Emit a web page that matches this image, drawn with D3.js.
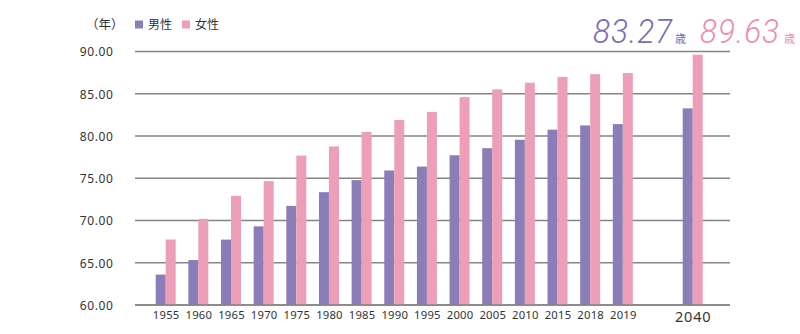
<!DOCTYPE html>
<html>
<head>
<meta charset="utf-8">
<script src="https://cdn.jsdelivr.net/npm/d3@7"></script>
<style>
  html, body { margin: 0; padding: 0; background: #fff; }
  svg { display: block; }
  .cjk { font-family: "Noto Sans CJK JP", "Noto Sans", sans-serif; }
  .num { font-family: "Noto Sans", "DejaVu Sans", sans-serif; }
</style>
</head>
<body>
<svg id="chart" width="800" height="334"></svg>
<script>
// Average life expectancy (years) by year; 2040 is a projection
const years  = ["1955","1960","1965","1970","1975","1980","1985","1990","1995","2000","2005","2010","2015","2018","2019","2040"];
const male   = [63.60, 65.32, 67.74, 69.31, 71.73, 73.35, 74.78, 75.92, 76.38, 77.72, 78.56, 79.55, 80.75, 81.25, 81.41, 83.27];
const female = [67.75, 70.19, 72.92, 74.66, 77.68, 78.76, 80.48, 81.90, 82.85, 84.60, 85.52, 86.30, 86.99, 87.32, 87.45, 89.63];
const yTicks = [60, 65, 70, 75, 80, 85, 90];
const seriesNames = ["男性", "女性"];
const projectionYear = "2040";

const colors = { "男性": "#8b7db8", "女性": "#ec9fb7" };
const calloutColors = { "男性": "#7a6caf", "女性": "#e98fae" };
const gridColor = "#858585";
const textColor = "#333";

const svg = d3.select("#chart");

// the projected year sits a little more than one empty slot away from 2019
const projectionGap = 2.14;
const slotIndex = years.map((y, i) => y === projectionYear ? (i - 1) + projectionGap : i);

const x = d3.scaleLinear()
  .domain([0, d3.max(slotIndex)])
  .range([165.7, 692.7]);

const inner = d3.scaleBand()
  .domain(seriesNames)
  .range([-10, 10])
  .padding(0);

const y = d3.scaleLinear().domain([60, 90]).range([305, 51.5]);

const plotLeft = 135, plotRight = 730;

// horizontal gridlines
svg.append("g")
  .selectAll("line")
  .data(yTicks)
  .join("line")
  .attr("x1", plotLeft).attr("x2", plotRight)
  .attr("y1", d => y(d)).attr("y2", d => y(d))
  .attr("stroke", gridColor)
  .attr("stroke-width", 1.5);

// y axis labels
const yAxis = d3.axisLeft(y).tickValues(yTicks).tickFormat(d3.format(".2f")).tickSize(0).tickPadding(0);
const yG = svg.append("g").attr("transform", "translate(113.5,0)").call(yAxis);
yG.select(".domain").remove();
yG.selectAll("text")
  .attr("class", "num")
  .attr("fill", textColor)
  .style("font-size", "12px")
  .style("letter-spacing", "0.6px")
  .attr("dy", "0.36em");

// bars
const rows = years.map((yr, i) => ({ yr, i, vals: [ { k: "男性", v: male[i] }, { k: "女性", v: female[i] } ] }));
const groups = svg.append("g")
  .selectAll("g")
  .data(rows)
  .join("g")
  .attr("transform", d => `translate(${x(slotIndex[d.i])},0)`);

groups.selectAll("rect")
  .data(d => d.vals)
  .join("rect")
  .attr("x", d => inner(d.k))
  .attr("width", inner.bandwidth())
  .attr("y", d => y(d.v))
  .attr("height", d => y(60) - y(d.v))
  .attr("fill", d => colors[d.k]);

// redraw the baseline on top of the bars
svg.append("line")
  .attr("x1", plotLeft).attr("x2", plotRight)
  .attr("y1", y(60)).attr("y2", y(60))
  .attr("stroke", gridColor).attr("stroke-width", 1.5);

// x axis labels
const xAxis = d3.axisBottom(x)
  .tickValues(slotIndex)
  .tickFormat((d, i) => years[i])
  .tickSize(0).tickPadding(0);
const xG = svg.append("g").call(xAxis);
xG.select(".domain").remove();
xG.selectAll("text")
  .attr("class", "num")
  .attr("fill", textColor)
  .attr("y", (d, i) => years[i] === projectionYear ? 322 : 319)
  .attr("dy", 0)
  .style("font-size", (d, i) => years[i] === projectionYear ? "14.5px" : "11.3px")
  .style("letter-spacing", (d, i) => years[i] === projectionYear ? "0.8px" : "0.2px");

// unit label and legend
svg.append("text")
  .attr("class", "cjk")
  .attr("x", 86).attr("y", 29)
  .attr("fill", textColor)
  .style("font-size", "12.5px")
  .text("（年）");

const legend = svg.append("g").attr("transform", "translate(135,20.5)");
const legendStep = 47;
seriesNames.forEach((name, i) => {
  const g = legend.append("g").attr("transform", `translate(${i * legendStep},0)`);
  g.append("rect").attr("width", 8).attr("height", 8).attr("fill", colors[name]);
  g.append("text")
    .attr("class", "cjk")
    .attr("x", 13).attr("y", 8.5)
    .attr("fill", textColor)
    .style("font-size", "12px")
    .text(name);
});

// projected values called out at top right, in a narrow italic face
const last = years.indexOf(projectionYear);
const callouts = [
  { v: male[last], k: "男性", x: 593, unitX: 675 },
  { v: female[last], k: "女性", x: 700, unitX: 784 }
];
callouts.forEach(c => {
  svg.append("g")
    .attr("transform", `translate(${c.x},43) scale(0.93,1)`)
    .append("text")
    .attr("fill", calloutColors[c.k])
    .style("font-family", "Roboto, 'Noto Sans', sans-serif")
    .style("font-style", "italic")
    .style("font-weight", 300)
    .style("font-size", "34px")
    .style("letter-spacing", "1px")
    .text(d3.format(".2f")(c.v));
  svg.append("text")
    .attr("class", "cjk")
    .attr("x", c.unitX).attr("y", 43)
    .attr("fill", calloutColors[c.k])
    .style("font-size", "11px")
    .text("歳");
});
</script>
</body>
</html>
